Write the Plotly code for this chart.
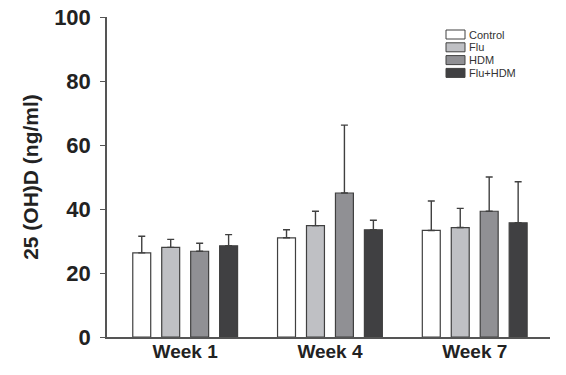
import plotly.graph_objects as go

weeks = ["Week 1", "Week 4", "Week 7"]
groups = ["Control", "Flu", "HDM", "Flu+HDM"]
means = {
    "Control": [26.3, 31.0, 33.3],
    "Flu": [28.0, 34.8, 34.2],
    "HDM": [26.8, 45.0, 39.3],
    "Flu+HDM": [28.5, 33.5, 35.7],
}
errors = {
    "Control": [5.2, 2.5, 9.2],
    "Flu": [2.5, 4.5, 6.0],
    "HDM": [2.5, 21.2, 10.7],
    "Flu+HDM": [3.5, 3.0, 12.8],
}
colors = {
    "Control": "#ffffff",
    "Flu": "#bfc0c4",
    "HDM": "#909094",
    "Flu+HDM": "#404042",
}
edge = "#404040"

W, H = 566, 375
ML, MR, MT, MB = 107, 16, 17, 38
PW, PH = W - ML - MR, H - MT - MB

fig = go.Figure()
for g in groups:
    fig.add_trace(go.Bar(
        name=g, x=weeks, y=means[g],
        marker=dict(color=colors[g], line=dict(color=edge, width=1.2)),
        error_y=dict(type="data", array=errors[g], symmetric=False,
                     arrayminus=[0, 0, 0], color=edge, thickness=1.4, width=3.5),
        showlegend=False,
    ))

# manual compact legend
def px_x(p):
    return (p - ML) / PW

def px_y(p):
    return (H - MB - p) / PH

for i, g in enumerate(groups):
    top = 30 + 12.8 * i
    fig.add_shape(type="rect", xref="paper", yref="paper",
                  x0=px_x(446), x1=px_x(465), y0=px_y(top + 9), y1=px_y(top),
                  fillcolor=colors[g], line=dict(color=edge, width=1))
    fig.add_annotation(xref="paper", yref="paper", x=px_x(468), y=px_y(top + 4.5),
                       text=g, showarrow=False, xanchor="left", yanchor="middle",
                       borderpad=0,
                       font=dict(size=11, color="#333333"))

fig.update_layout(
    width=W, height=H,
    paper_bgcolor="white", plot_bgcolor="white",
    margin=dict(l=ML, r=MR, t=MT, b=MB),
    barmode="group", bargap=0.2, bargroupgap=0.38,
    font=dict(family="Liberation Sans, Arial, sans-serif", color="#222222"),
    showlegend=False,
)
fig.update_xaxes(
    range=[-0.54, 2.52], showline=True, linecolor="#555555", linewidth=1.5,
    ticks="", showgrid=False, zeroline=False, automargin=False,
    ticklabelstandoff=-4,
    tickfont=dict(size=19, family="Liberation Sans, Arial, sans-serif", color="#222222"),
    tickprefix="<b>", ticksuffix="</b>",
)
fig.update_yaxes(
    range=[0, 100], dtick=20, showline=True, linecolor="#555555", linewidth=1.5,
    ticks="outside", ticklen=5, tickcolor="#555555", showgrid=False, zeroline=False,
    automargin=False, ticklabelstandoff=5,
    tickfont=dict(size=22, family="Liberation Sans, Arial, sans-serif", color="#222222"),
    tickprefix="<b>", ticksuffix="</b>",
    title=dict(text="<b>25 (OH)D (ng/ml)</b>", font=dict(size=21, color="#222222"), standoff=10),
)

fig.write_html("out.html", config={"displayModeBar": False},
               post_script="document.body.style.margin='0';")
